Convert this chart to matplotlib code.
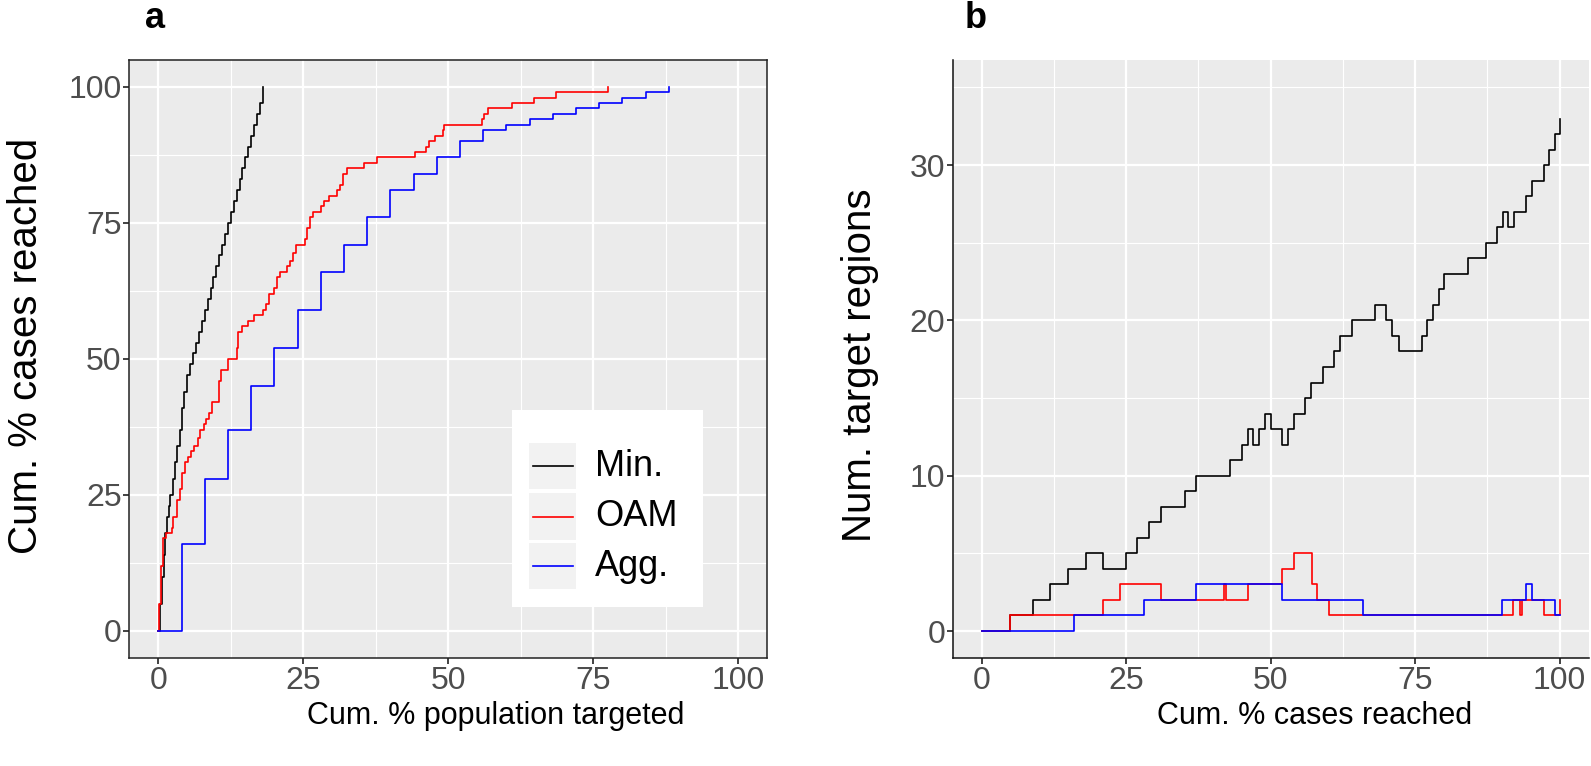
import matplotlib
matplotlib.use("Agg")
import matplotlib.pyplot as plt
from matplotlib.patches import Rectangle
from matplotlib.lines import Line2D
from matplotlib.ticker import MultipleLocator

plt.rcParams['font.family'] = ['Liberation Sans', 'DejaVu Sans']

# ---------------- data ----------------
series_names = ['Min.', 'OAM', 'Agg.']
series_colors = ['#000000', '#FF0000', '#0000FF']

# panel a: cumulative % population targeted (x) vs cumulative % cases reached (y)
a_min_x = [0, 0.3, 0.6, 0.9, 1.2, 1.5, 1.8, 2.1, 2.5, 2.9, 3.3, 3.7, 4.1, 4.5, 5.0,
           5.5, 6.0, 6.5, 7.0, 7.5, 8.0, 8.5, 9.0, 9.5, 10.0, 10.5, 11.0, 11.5, 12.0,
           12.5, 13.0, 13.5, 14.0, 14.5, 15.0, 15.5, 16.0, 16.5, 17.0, 17.5, 18.0]
a_min_y = [0, 5, 10, 14, 18, 21, 23, 25, 28, 31, 34, 37, 41, 44, 47,
           49, 51, 53, 55, 57, 59, 61, 63, 65, 67, 69, 71, 73, 75,
           77, 79, 81, 83, 85, 87, 89, 91, 93, 95, 97, 100]

a_oam_x = [0, 0.17, 0.4, 0.87, 1.33, 2.3, 2.6, 3.2, 3.74, 4.1, 4.6, 5.2, 5.6, 6.2, 6.8,
           7.2, 7.8, 8.2, 8.7, 9.3, 10.5, 10.8, 12.1, 13.5, 13.8, 14.4, 15.5, 16.5, 18.1,
           18.5, 19.1, 19.9, 20.4, 20.9, 22.2, 22.7, 23.3, 23.7, 25.3, 25.6, 26.2, 26.6,
           28.1, 28.6, 29.4, 30.8, 31.4, 31.9, 32.5, 35.5, 37.7, 44.3, 46.1, 46.6, 47.7,
           49.0, 49.3, 55.8, 56.2, 56.9, 61.0, 64.8, 68.5, 77.5]
a_oam_y = [0, 5, 12, 17, 18, 19, 21, 24, 26, 29, 31, 32, 33, 34, 35.5,
           37, 38, 39, 40, 42, 46, 48, 50, 52, 55, 56, 57, 58, 59,
           60, 62, 63, 65, 66, 67, 68, 69.4, 71, 72, 74, 76, 77,
           78, 79, 80, 81, 82, 84, 85, 86, 87, 88, 89, 90, 91,
           92, 93, 94, 95, 96, 97, 98, 99, 100]

a_agg_x = [0, 4, 8, 12, 16, 20, 24, 28, 32, 36, 40, 44, 48, 52, 56, 60, 64, 68, 72,
           76, 80, 84, 88]
a_agg_y = [0, 16, 28, 37, 45, 52, 59, 66, 71, 76, 81, 84, 87, 90, 92, 93, 94, 95, 96,
           97, 98, 99, 100]

# panel b: cumulative % cases reached (x) vs number of target regions (y)
b_min_x = [0, 4.9, 8.8, 11.9, 15.0, 18.0, 20.9, 24.9, 26.9, 29.0, 31.0, 35.1, 37.0,
           43.0, 45.0, 46.0, 47.0, 48.0, 49.0, 50.0, 52.0, 53.0, 54.0, 56.0, 57.0,
           59.0, 61.0, 62.0, 64.0, 68.0, 70.0, 71.0, 72.2, 76.1, 77.1, 78.1, 79.2,
           80.0, 84.2, 87.2, 89.1, 90.2, 91.1, 92.1, 94.1, 95.2, 97.2, 98.1, 99.2, 100.0]
b_min_y = [0, 1, 2, 3, 4, 5, 4, 5, 6, 7, 8, 9, 10,
           11, 12, 13, 12, 13, 14, 13, 12, 13, 14, 15, 16,
           17, 18, 19, 20, 21, 20, 19, 18, 19, 20, 21, 22,
           23, 24, 25, 26, 27, 26, 27, 28, 29, 30, 31, 32, 33]

b_oam_x = [0, 4.9, 20.9, 23.9, 31.0, 42.0, 42.2, 46.0, 52.0, 54.0, 57.1, 58.0, 60.1,
           92.0, 93.2, 93.4, 97.2, 100.0]
b_oam_y = [0, 1, 2, 3, 2, 3, 2, 3, 4, 5, 3, 2, 1,
           2, 1, 2, 1, 2]

b_agg_x = [0, 15.9, 28.0, 37.0, 52.0, 66.0, 90.1, 94.2, 95.2, 99.2, 100.0]
b_agg_y = [0, 1, 2, 3, 2, 1, 2, 3, 2, 1, 1]

pct_ticks = [0, 25, 50, 75, 100]
b_y_ticks = [0, 10, 20, 30]

# ---------------- figure ----------------
W, H = 1591, 766
fig = plt.figure(figsize=(W / 100, H / 100), dpi=100)


def rect(l, t, r, b):
    return [l / W, 1 - b / H, (r - l) / W, (b - t) / H]


axA = fig.add_axes(rect(129.3, 59.5, 767.3, 658.2))
axB = fig.add_axes(rect(952.8, 60.3, 1588.6, 658.2))

TICK_GRAY = '#4D4D4D'


def style(ax):
    ax.set_facecolor('#EBEBEB')
    ax.set_axisbelow(True)
    ax.grid(which='major', color='white', lw=1.6)
    ax.grid(which='minor', color='white', lw=0.8)
    ax.tick_params(which='major', length=4, width=1.3, color='#333333',
                   labelsize=23, labelcolor=TICK_GRAY, pad=1.5)
    ax.tick_params(which='minor', length=0)


# panel a
for xs, ys, c in zip([a_min_x, a_oam_x, a_agg_x], [a_min_y, a_oam_y, a_agg_y], series_colors):
    axA.step(xs, ys, where='post', color=c, lw=1.2)
axA.set_xlim(-5, 105)
axA.set_ylim(-5, 105)
axA.set_xticks(pct_ticks)
axA.set_yticks(pct_ticks)
axA.xaxis.set_minor_locator(MultipleLocator(12.5))
axA.yaxis.set_minor_locator(MultipleLocator(12.5))
style(axA)
for s in axA.spines.values():
    s.set_color('#222222')
    s.set_linewidth(1.1)

# panel b
for xs, ys, c in zip([b_min_x, b_oam_x, b_agg_x], [b_min_y, b_oam_y, b_agg_y], series_colors):
    axB.step(xs, ys, where='post', color=c, lw=1.2)
axB.set_xlim(-5, 105)
axB.set_ylim(-1.75, 36.75)
axB.set_xticks(pct_ticks)
axB.set_yticks(b_y_ticks)
axB.xaxis.set_minor_locator(MultipleLocator(12.5))
axB.yaxis.set_minor_locator(MultipleLocator(5))
style(axB)
axB.spines['top'].set_visible(False)
axB.spines['right'].set_visible(False)
for k in ['left', 'bottom']:
    axB.spines[k].set_color('#111111')
    axB.spines[k].set_linewidth(1.1)


# axis titles (positions in figure pixels)
def ftext(px, py, s, **kw):
    fig.text(px / W, 1 - py / H, s, **kw)


ftext(496, 716, 'Cum. % population targeted', ha='center', va='center', fontsize=22)
ftext(1315, 716, 'Cum. % cases reached', ha='center', va='center', fontsize=22)
ftext(26, 346, 'Cum. % cases reached', ha='center', va='center', rotation=90, fontsize=29)
ftext(860, 365, 'Num. target regions', ha='center', va='center', rotation=90, fontsize=29)

# panel letters
ftext(155, 18, 'a', ha='center', va='center', fontsize=26, fontweight='bold')
ftext(976, 18, 'b', ha='center', va='center', fontsize=26, fontweight='bold')


# legend (drawn in figure pixel coordinates)
def fr_rect(l, t, r, b, **kw):
    p = Rectangle((l / W, 1 - b / H), (r - l) / W, (b - t) / H,
                  transform=fig.transFigure, **kw)
    fig.add_artist(p)


fr_rect(512, 410, 703, 607, facecolor='white', edgecolor='none', zorder=5)
rows = [(443, 489), (493, 540), (543, 589)]
for (t, b), name, c in zip(rows, series_names, series_colors):
    fr_rect(529, t, 576, b, facecolor='#F2F2F2', edgecolor='none', zorder=6)
    yc = 1 - ((t + b) / 2) / H
    fig.add_artist(Line2D([533 / W, 573 / W], [yc, yc], transform=fig.transFigure,
                          color=c, lw=1.2, zorder=7))
    fig.text(595 / W, yc, name, ha='left', va='center', fontsize=26, zorder=8)

fig.savefig('out.png', dpi=100)
